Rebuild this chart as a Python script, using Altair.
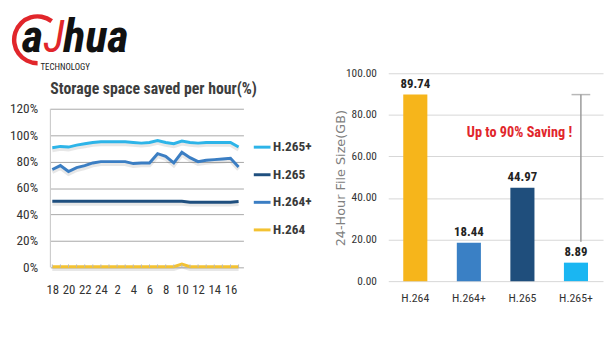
import altair as alt
import pandas as pd

# ---------------- data ----------------
HOUR_LABELS = ["18", "19", "20", "21", "22", "23", "24", "1", "2", "3", "4", "5",
               "6", "7", "8", "9", "10", "11", "12", "13", "14", "15", "16", "17"]
SERIES = ["H.265+", "H.265", "H.264+", "H.264"]
LINE_COLORS = ["#2db4e8", "#1f4f7f", "#3b7ec3", "#f3c232"]
H265P = [90.5, 91.5, 91, 92.5, 93.5, 94.5, 95, 95, 95, 95, 94.5, 94,
         94.5, 96, 94.5, 93.5, 95.5, 94.5, 94, 94.5, 94.5, 94.5, 94.5, 91]
H265 = [50, 50, 50, 50, 50, 50, 50, 50, 50, 50, 50, 50,
        50, 50, 50, 50, 50, 49.3, 49.3, 49.3, 49.3, 49.3, 49.3, 49.8]
H264P = [74, 77, 72.5, 75.5, 77, 79, 80, 80, 80, 80, 78.5, 79,
         79, 86, 84, 79, 87, 83, 80, 81, 81.5, 82, 82.5, 76]
H264 = [0.5, 0.5, 0.5, 0.5, 0.5, 0.5, 0.5, 0.5, 0.5, 0.5, 0.5, 0.5,
        0.5, 0.5, 0.5, 0.5, 2.5, 0.5, 0.5, 0.5, 0.5, 0.5, 0.5, 0.5]
PCT_TICKS = [0, 20, 40, 60, 80, 100, 120]
LEFT_TITLE = "Storage space saved per hour(%)"

CODECS = ["H.264", "H.264+", "H.265", "H.265+"]
FILE_GB = [89.74, 18.44, 44.97, 8.89]
BAR_COLORS = ["#f6b51b", "#3a80c5", "#1f4e7c", "#1ab6f2"]
GB_TICKS = [0, 20, 40, 60, 80, 100]
SAVING_TEXT = "Up to 90% Saving !"
SAVING_Y = 71
BRACKET_BOTTOM = 19

NARROW = "Liberation Sans Narrow, Roboto Condensed, Roboto, sans-serif"
RED = "#e1262b"

# left plot shares its top edge with the right plot; the extra room above 120%
# keeps the 0-120% band where the reference draws it
L_HEIGHT = 197
L_YMAX = 120 * L_HEIGHT / 161.0

# ---------------- left chart ----------------
rows = []
for s, vals in zip(SERIES, [H265P, H265, H264P, H264]):
    for i, v in enumerate(vals):
        rows.append({"idx": i, "hour": HOUR_LABELS[i], "series": s, "value": v})
line_df = pd.DataFrame(rows)
tick_df = pd.DataFrame({"idx": list(range(len(HOUR_LABELS))),
                        "lo": [0] * len(HOUR_LABELS),
                        "hi": [2.2] * len(HOUR_LABELS)})
edge_df = pd.DataFrame({"lo": [PCT_TICKS[0]], "hi": [PCT_TICKS[-1]]})
one = pd.DataFrame({"k": [0]})

label_arr = "[" + ",".join("'" + h + "'" for h in HOUR_LABELS) + "]"
x_scale = alt.Scale(domain=[-0.24, 23.6], nice=False, zero=False)
x_axis = alt.Axis(values=list(range(0, 24, 2)), labelExpr=label_arr + "[datum.value]",
                  title=None, domain=False, ticks=False, tickSize=0, grid=False,
                  labelPadding=17, labelFontSize=13, labelFont=NARROW,
                  labelColor="#333333", labelAngle=0)
y_scale = alt.Scale(domain=[0, L_YMAX], nice=False)
y_axis = alt.Axis(values=PCT_TICKS, labelExpr="datum.value + '%'", title=None,
                  grid=True, gridColor="#a8a8a8", domain=False,
                  ticks=False, tickSize=0, labelPadding=13, labelFontSize=13.5,
                  labelFont=NARROW, labelColor="#333333")

xe = alt.X("idx:Q", scale=x_scale, axis=x_axis)
ye = alt.Y("value:Q", scale=y_scale, axis=y_axis)

edge = alt.Chart(edge_df).mark_rule(color="#c4c4c4", strokeWidth=1).encode(
    x=alt.value(0),
    y=alt.Y("lo:Q", scale=y_scale, axis=y_axis), y2="hi:Q")
shadow = alt.Chart(line_df).mark_line(strokeWidth=4, opacity=0.13, yOffset=2.5,
                                      color="#444444").encode(x=xe, y=ye, detail="series:N")
lines = alt.Chart(line_df).mark_line(strokeWidth=3).encode(
    x=xe, y=ye,
    color=alt.Color("series:N",
                    scale=alt.Scale(domain=SERIES, range=LINE_COLORS),
                    legend=alt.Legend(title=None, orient="none", legendX=205, legendY=65,
                                      symbolType="stroke", symbolSize=289,
                                      symbolStrokeWidth=3, labelFont=NARROW,
                                      labelFontSize=13.5, labelFontWeight="bold",
                                      labelColor="#3a3a3a", rowPadding=11,
                                      labelOffset=1)))
ticks = alt.Chart(tick_df).mark_rule(color="#b8b8b8", strokeWidth=1).encode(
    x=alt.X("idx:Q", scale=x_scale, axis=x_axis),
    y=alt.Y("lo:Q", scale=y_scale, axis=y_axis),
    y2="hi:Q")

title_txt = alt.Chart(one).mark_text(text=LEFT_TITLE, align="left", baseline="alphabetic",
                                     font=NARROW, fontSize=16, fontWeight="bold",
                                     color="#3d3d3d").encode(x=alt.value(0), y=alt.value(21))
arc = alt.Chart(one).mark_arc(color=RED, radius=26, radius2=21.5, theta=3.14,
                              theta2=6.93).encode(x=alt.value(-13), y=alt.value(-34))
logo_a = alt.Chart(one).mark_text(text="a", align="left", baseline="alphabetic", font=NARROW,
                                  fontSize=47, fontWeight="bold", fontStyle="italic",
                                  color="#111111").encode(x=alt.value(-29), y=alt.value(-22))
logo_j = alt.Chart(one).mark_text(text="J", align="left", baseline="alphabetic", font=NARROW,
                                  fontSize=45, fontWeight="normal", fontStyle="italic",
                                  color=RED).encode(x=alt.value(-7), y=alt.value(-22))
logo_hua = alt.Chart(one).mark_text(text="hua", align="left", baseline="alphabetic",
                                    font=NARROW, fontSize=47, fontWeight="bold",
                                    fontStyle="italic", color="#111111").encode(
    x=alt.value(13), y=alt.value(-22))
logo_tech = alt.Chart(one).mark_text(text="TECHNOLOGY", align="left", baseline="alphabetic",
                                     font=NARROW, fontSize=9, color="#222222").encode(
    x=alt.value(-10), y=alt.value(-3))
frame_l = alt.Chart(one).mark_rule(color="#ffffff", strokeOpacity=0).encode(
    x=alt.value(-39), x2=alt.value(273), y=alt.value(-63), y2=alt.value(-63))

left = alt.layer(frame_l, edge, shadow, lines, ticks, title_txt, arc, logo_a, logo_j,
                 logo_hua, logo_tech).properties(width=196, height=L_HEIGHT)

# ---------------- right chart ----------------
bar_df = pd.DataFrame({"codec": CODECS, "gb": FILE_GB, "col": BAR_COLORS})
bx = alt.X("codec:N", sort=CODECS,
           scale=alt.Scale(domain=CODECS, paddingInner=0.55, paddingOuter=0.28),
           axis=alt.Axis(title=None, labelAngle=0, domain=False, ticks=False, tickSize=0,
                         labelPadding=12, labelFontSize=12, labelFont=NARROW,
                         labelColor="#333333"))
by = alt.Y("gb:Q", scale=alt.Scale(domain=[0, 100], nice=False),
           axis=alt.Axis(values=GB_TICKS, format=".2f", grid=True, gridColor="#d6d6d6",
                         domain=False, ticks=False, tickSize=0, labelPadding=12,
                         labelFontSize=11.5, labelFont=NARROW, labelColor="#333333",
                         title="24-Hour File Size(GB)", titleFont="DejaVu Sans",
                         titleFontSize=13, titleFontWeight="normal",
                         titleColor="#808080", titleX=-41, titleY=106))

bars = alt.Chart(bar_df).mark_bar().encode(
    x=bx, y=by, color=alt.Color("col:N", scale=None))
bar_labels = alt.Chart(bar_df).mark_text(dy=-4, baseline="bottom", font=NARROW, fontSize=13,
                                         fontWeight="bold", color="#222222").encode(
    x=bx, y=by, text=alt.Text("gb:Q", format=".2f"))
saving = alt.Chart(pd.DataFrame({"codec": ["H.265"], "gb": [SAVING_Y], "t": [SAVING_TEXT]})
                   ).mark_text(xOffset=-3, baseline="middle", font=NARROW, fontSize=14.5,
                               fontWeight="bold", color=RED).encode(x=bx, y=by, text="t:N")
br_df = pd.DataFrame({"codec": ["H.265+"], "gb": [FILE_GB[0]], "lo": [BRACKET_BOTTOM]})
bracket = alt.Chart(br_df).mark_rule(xOffset=5, color="#9a9a9a", strokeWidth=1.5).encode(
    x=bx, y=by, y2="lo:Q")
cap = alt.Chart(br_df).mark_tick(orient="horizontal", size=19, thickness=1.5, xOffset=5,
                                 color="#9a9a9a").encode(x=bx, y=by)
frame_r = alt.Chart(one).mark_rule(color="#ffffff", strokeOpacity=0).encode(
    x=alt.value(-63), x2=alt.value(0), y=alt.value(-63), y2=alt.value(-63))

right = alt.layer(frame_r, bars, bar_labels, saving, bracket, cap).properties(
    width=218, height=211)

chart = alt.hconcat(left, right, spacing=5).resolve_scale(color="independent").properties(
    padding=0).configure_view(stroke="transparent")

chart.save("out.html", embed_options={"renderer": "svg", "actions": False})
